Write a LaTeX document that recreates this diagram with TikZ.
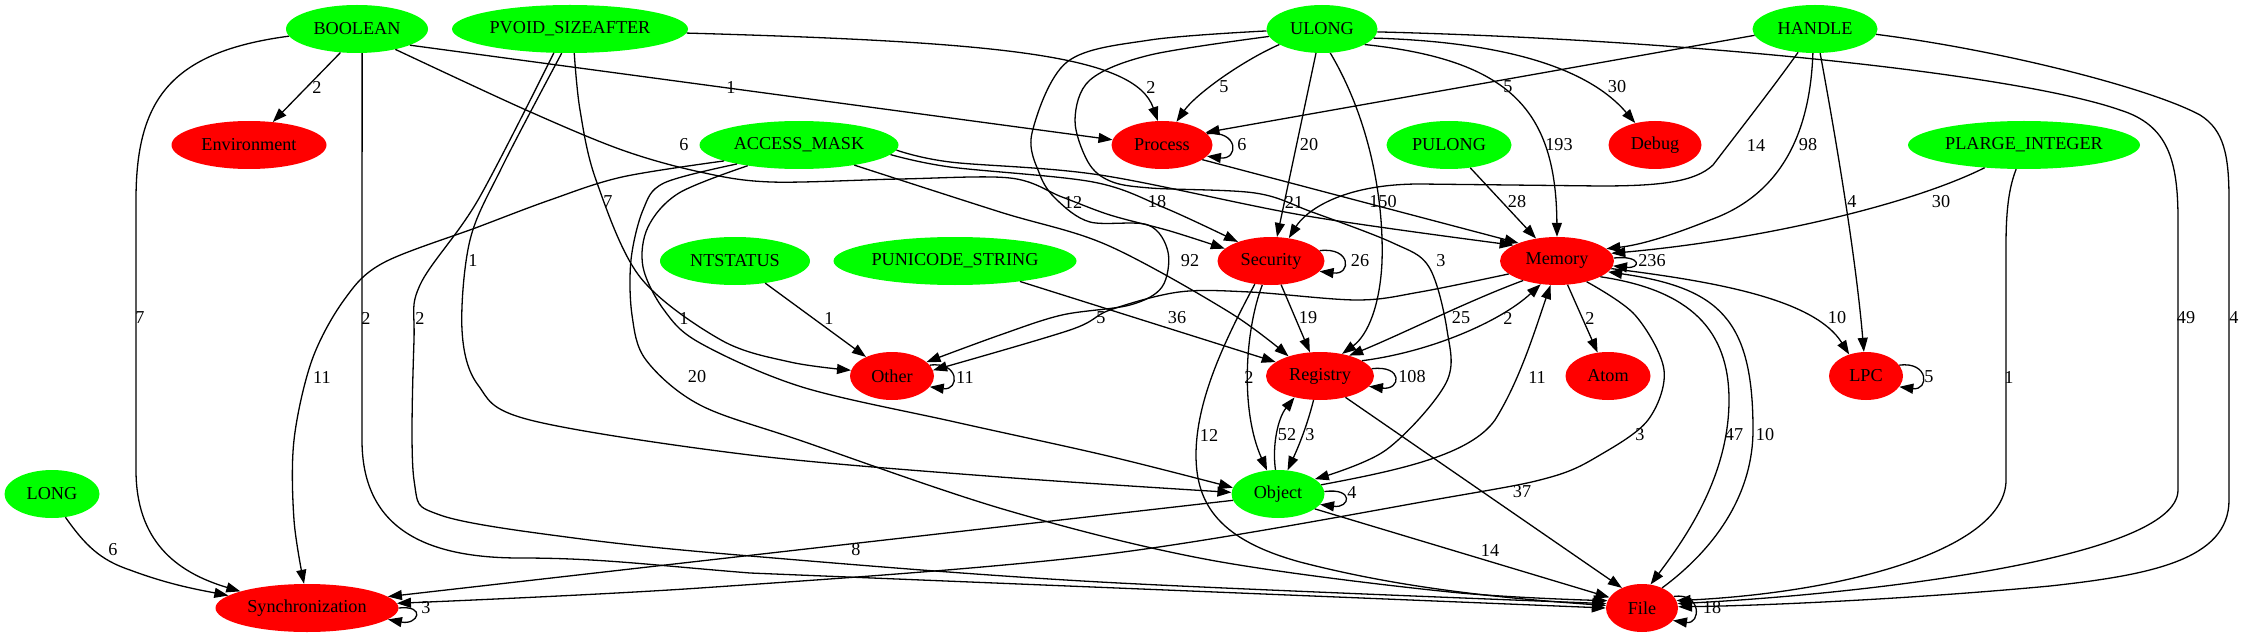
\documentclass[tikz,border=0pt]{standalone}
\usepackage{fontspec}
\setmainfont{Liberation Serif}
\usetikzlibrary{arrows.meta}
\usetikzlibrary{shapes.geometric}
\definecolor{typegreen}{RGB}{0,255,0}
\definecolor{catred}{RGB}{255,0,0}
\tikzset{
    gvnode/.style={
        ellipse,
        inner sep=0pt,
        minimum height=48pt,
        font=\fontsize{18.2}{20}\selectfont},
    argtype/.style={gvnode, fill=typegreen},
    category/.style={gvnode, fill=catred},
    edgecount/.style={
        inner sep=0pt,
        font=\fontsize{18.2}{20}\selectfont},
    link/.style={
        draw,
        line width=1.3pt,
        -{Triangle[length=14pt,width=10pt]}}}

\begin{document}
\begin{tikzpicture}[x=1pt,y=-1pt]
    \useasboundingbox (0,0) rectangle (2243,639);

    \node[argtype, minimum width=142pt] (bool) at (357,29) {BOOLEAN};
    \node[argtype, minimum width=236pt] (pvoid) at (570,29) {PVOID\_SIZEAFTER};
    \node[argtype, minimum width=111pt] (ulong) at (1322,29) {ULONG};
    \node[argtype, minimum width=125pt] (handle) at (1815,29) {HANDLE};
    \node[category, minimum width=155pt] (env) at (249,145) {Environment};
    \node[argtype, minimum width=199pt] (amask) at (799,145) {ACCESS\_MASK};
    \node[category, minimum width=101pt] (proc) at (1162,145) {Process};
    \node[argtype, minimum width=125pt] (pulong) at (1449,145) {PULONG};
    \node[category, minimum width=93pt] (debug) at (1655,145) {Debug};
    \node[argtype, minimum width=232pt] (plarge) at (2024,145) {PLARGE\_INTEGER};
    \node[argtype, minimum width=150pt] (ntstatus) at (735,261) {NTSTATUS};
    \node[argtype, minimum width=243pt] (pustr) at (955,261) {PUNICODE\_STRING};
    \node[category, minimum width=107pt] (sec) at (1271,261) {Security};
    \node[category, minimum width=114pt] (mem) at (1557,261) {Memory};
    \node[category, minimum width=84pt] (other) at (892,376) {Other};
    \node[category, minimum width=108pt] (reg) at (1320,376) {Registry};
    \node[category, minimum width=85pt] (atom) at (1608,376) {Atom};
    \node[category, minimum width=74pt] (lpc) at (1866,376) {LPC};
    \node[argtype, minimum width=95pt] (long) at (52,494) {LONG};
    \node[argtype, minimum width=93pt] (obj) at (1278,494) {Object};
    \node[category, minimum width=183pt] (sync) at (307,608) {Synchronization};
    \node[category, minimum width=72pt] (file) at (1642,608) {File};

    % BOOLEAN
    \draw[link] (bool.-125) -- (env.44);
    \draw[link] (bool.-17) -- (proc.174);
    \draw[link] plot[smooth,tension=.55] coordinates {(bool.-28) (526,110) (622,150) (700,172) (771,182) (900,179) (1010,178) (1062,197) (1110,215) (1170,231) (sec.165)};
    \draw[link] (bool.186) .. controls (170,52) and (136,100) .. (136,200) -- (136,470) .. controls (136,540) and (175,572) .. (sync.166);
    \draw[link] (bool.-78) -- (362,440) .. controls (362,525) and (420,558) .. (520,558) .. controls (600,558) and (650,565) .. (750,573) -- (file.180);

    % PVOID_SIZEAFTER
    \draw[link] (pvoid.-2) .. controls (1000,42) and (1135,55) .. (proc.100);
    \draw[link] plot[smooth,tension=.55] coordinates {(pvoid.-80) (580,110) (596,180) (640,277) (721,340) (790,362) (other.172)};
    \draw[link] plot[smooth,tension=.55] coordinates {(pvoid.-109) (502,167) (470,240) (462,330) (478,385) (530,420) (750,455) (1000,477) (obj.178)};
    \draw[link] plot[smooth,tension=.55] coordinates {(pvoid.-124) (478,200) (420,285) (414,340) (414,480) (440,515) (574,538) (750,556) (1100,582) (file.173)};

    % ULONG
    \draw[link] (ulong.200) .. controls (1240,62) and (1195,95) .. (proc.58);
    \draw[link] (ulong.-104) -- (sec.76);
    \draw[link] (ulong.-20) .. controls (1510,60) and (1556,110) .. (mem.90);
    \draw[link] (ulong.-10) .. controls (1510,42) and (1590,70) .. (debug.132);
    \draw[link] (ulong.-71) .. controls (1370,120) and (1384,200) .. (1382,262) .. controls (1380,305) and (1368,335) .. (reg.45);
    \draw[link] plot[smooth,tension=.55] coordinates {(ulong.182) (1150,40) (1067,62) (1032,133) (1040,175) (1057,200) (1090,222) (1148,225) (1168,252) (1162,287) (1130,305) (1062,315) (1000,335) (other.22)};
    \draw[link] plot[smooth,tension=.55] coordinates {(ulong.188) (1150,55) (1090,80) (1075,120) (1088,162) (1110,181) (1150,188) (1255,193) (1312,212) (1393,243) (1429,267) (1447,330) (1446,383) (1386,450) (obj.22)};
    \draw[link] (ulong.-3) .. controls (1700,40) and (2020,75) .. (2120,110) .. controls (2168,125) and (2178,160) .. (2178,220) -- (2178,490) .. controls (2178,560) and (1850,595) .. (file.7);

    % HANDLE
    \draw[link] (handle.186) -- (proc.16);
    \draw[link] (handle.-126) .. controls (1775,85) and (1732,140) .. (1713,165) .. controls (1695,182) and (1660,186) .. (1600,186) -- (1420,184) .. controls (1340,184) and (1305,212) .. (sec.52);
    \draw[link] (handle.-95) .. controls (1810,135) and (1780,195) .. (1710,220) .. controls (1670,236) and (1640,245) .. (mem.14);
    \draw[link] (handle.-78) .. controls (1838,150) and (1856,260) .. (lpc.95);
    \draw[link] (handle.-5) .. controls (2000,50) and (2150,88) .. (2200,115) .. controls (2224,130) and (2229,155) .. (2229,200) -- (2229,500) .. controls (2229,560) and (2150,575) .. (2050,586) .. controls (1900,600) and (1750,606) .. (file.2);

    % ACCESS_MASK
    \draw[link] plot[smooth,tension=.55] coordinates {(amask.-168) (622,177) (550,200) (478,227) (383,263) (344,300) (312,360) (294,440) (294,520) (sync.97)};
    \draw[link] plot[smooth,tension=.55] coordinates {(amask.-158) (679,193) (648,227) (643,267) (664,310) (700,343) (802,387) (955,422) (1108,456) (obj.172)};
    \draw[link] plot[smooth,tension=.55] coordinates {(amask.-163) (664,183) (643,210) (631,260) (632,315) (646,360) (700,405) (802,441) (1006,510) (1210,560) (1450,592) (file.168)};
    \draw[link] plot[smooth,tension=.55] coordinates {(amask.-6) (950,167) (1093,182) (1165,208) (sec.150)};
    \draw[link] plot[smooth,tension=.55] coordinates {(amask.-3) (950,162) (1100,175) (1307,216) (mem.160)};
    \draw[link] plot[smooth,tension=.55] coordinates {(amask.-20) (1000,212) (1107,245) (1229,312) (reg.148)};

    % other types
    \draw[link] (pulong) -- (mem);
    \draw[link] (plarge.-150) .. controls (1910,205) and (1760,240) .. (mem.8);
    \draw[link] (plarge.-108) .. controls (2010,185) and (2006,205) .. (2006,245) -- (2006,480) .. controls (2006,548) and (1850,592) .. (file.12);
    \draw[link] (ntstatus) -- (other);
    \draw[link] (pustr) -- (reg);
    \draw[link] (long.-60) .. controls (85,545) and (100,560) .. (130,570) .. controls (170,585) and (200,590) .. (sync.171);

    % Object
    \draw[link] (obj.188) -- (sync.8);
    \draw[link] (obj.-22) -- (file.162);
    \draw[link] (obj.96) .. controls (1272,445) and (1278,418) .. (reg.-140);
    \draw[link] (obj.12) .. controls (1400,470) and (1470,455) .. (1495,420) .. controls (1520,380) and (1535,330) .. (mem.-105);

    % categories
    \draw[link] (proc.-20) -- (mem.155);
    \draw[link] (sec) -- (reg);
    \draw[link] (sec.-110) .. controls (1245,330) and (1240,410) .. (obj.115);
    \draw[link] (sec.-125) .. controls (1225,340) and (1196,400) .. (1196,455) .. controls (1196,505) and (1220,540) .. (1300,562) .. controls (1400,588) and (1500,598) .. (file.176);
    \draw[link] plot[smooth,tension=.55] coordinates {(mem.-165) (1420,292) (1357,300) (1250,292) (1179,292) (1110,310) (1070,330) (other.8)};
    \draw[link] (mem.-150) .. controls (1470,300) and (1400,335) .. (reg.35);
    \draw[link] (reg.20) .. controls (1430,352) and (1500,322) .. (mem.-125);
    \draw[link] (mem) -- (atom);
    \draw[link] (mem.-8) .. controls (1720,282) and (1815,300) .. (lpc.128);
    \draw[link] (mem.-20) .. controls (1690,290) and (1729,330) .. (1729,400) .. controls (1729,480) and (1680,545) .. (file.70);
    \draw[link] (file.45) .. controls (1720,545) and (1753,490) .. (1753,430) .. controls (1753,320) and (1720,288) .. (mem.-12);
    \draw[link] plot[smooth,tension=.55] coordinates {(mem.-35) (1635,315) (1664,370) (1648,420) (1600,455) (1551,477) (1450,497) (1100,555) (700,588) (sync.3)};
    \draw[link] (reg.-105) .. controls (1306,430) and (1296,452) .. (obj.68);
    \draw[link] (reg.-40) -- (file.135);

    % self loops
    \draw[link] (proc.14) .. controls +(32,-4) and +(32,4) .. (proc.-14);
    \draw[link] (sec.12) .. controls +(32,-4) and +(32,4) .. (sec.-12);
    \draw[link] (mem.3) .. controls +(28,-3) and +(28,3) .. (mem.-5);
    \draw[link] (other.16) .. controls +(30,-4) and +(30,4) .. (other.-16);
    \draw[link] (reg.8) .. controls +(32,-4) and +(32,4) .. (reg.-12);
    \draw[link] (lpc.18) .. controls +(30,-4) and +(30,4) .. (lpc.-18);
    \draw[link] (obj.3) .. controls +(30,-4) and +(30,4) .. (obj.-14);
    \draw[link] (file.20) .. controls +(28,-4) and +(28,4) .. (file.-22);
    \draw[link] (sync.0) .. controls +(28,-3) and +(30,6) .. (sync.-8);

    % edge counts
    \node[edgecount] (w-bool-env) at (317,87) {2};
    \node[edgecount] (w-bool-proc) at (731,87) {1};
    \node[edgecount] (w-pvoid-proc) at (1151,87) {2};
    \node[edgecount] (w-ulong-proc) at (1224,87) {5};
    \node[edgecount] (w-handle-proc) at (1508,87) {5};
    \node[edgecount] (w-ulong-debug) at (1617,87) {30};
    \node[edgecount] (w-bool-sec) at (684,145) {6};
    \node[edgecount] (w-ulong-sec) at (1309,145) {20};
    \node[edgecount] (w-ulong-mem) at (1559,145) {193};
    \node[edgecount] (w-handle-sec) at (1756,145) {14};
    \node[edgecount] (w-handle-mem) at (1808,145) {98};
    \node[edgecount] (w-proc-proc) at (1242,145) {6};
    \node[edgecount] (w-pvoid-other) at (608,202) {7};
    \node[edgecount] (w-ulong-other) at (1073,202) {12};
    \node[edgecount] (w-amask-sec) at (1157,202) {18};
    \node[edgecount] (w-amask-mem) at (1294,202) {21};
    \node[edgecount] (w-ulong-reg) at (1383,202) {150};
    \node[edgecount] (w-pulong-mem) at (1517,202) {28};
    \node[edgecount] (w-handle-lpc) at (1852,202) {4};
    \node[edgecount] (w-plarge-mem) at (1941,202) {30};
    \node[edgecount] (w-pvoid-obj) at (473,260) {1};
    \node[edgecount] (w-amask-reg) at (1190,261) {92};
    \node[edgecount] (w-ulong-obj) at (1441,261) {3};
    \node[edgecount] (w-sec-sec) at (1360,261) {26};
    \node[edgecount] (w-mem-mem) at (1652,261) {236};
    \node[edgecount] (w-bool-sync) at (140,318) {7};
    \node[edgecount] (w-bool-file) at (366,318) {2};
    \node[edgecount] (w-pvoid-file) at (420,318) {2};
    \node[edgecount] (w-amask-obj) at (684,318) {1};
    \node[edgecount] (w-nts-other) at (829,318) {1};
    \node[edgecount] (w-mem-other) at (1101,318) {5};
    \node[edgecount] (w-pustr-reg) at (1177,318) {36};
    \node[edgecount] (w-sec-reg) at (1308,318) {19};
    \node[edgecount] (w-mem-reg) at (1461,318) {25};
    \node[edgecount] (w-reg-mem) at (1508,318) {2};
    \node[edgecount] (w-mem-atom) at (1590,318) {2};
    \node[edgecount] (w-mem-lpc) at (1837,318) {10};
    \node[edgecount] (w-ulong-file) at (2186,318) {49};
    \node[edgecount] (w-handle-file) at (2234,318) {4};
    \node[edgecount] (w-amask-sync) at (322,377) {11};
    \node[edgecount] (w-amask-file) at (697,377) {20};
    \node[edgecount] (w-other-other) at (965,377) {11};
    \node[edgecount] (w-sec-obj) at (1249,377) {2};
    \node[edgecount] (w-reg-reg) at (1412,377) {108};
    \node[edgecount] (w-obj-mem) at (1537,377) {11};
    \node[edgecount] (w-lpc-lpc) at (1929,377) {5};
    \node[edgecount] (w-plarge-file) at (2009,377) {1};
    \node[edgecount] (w-sec-file) at (1209,435) {12};
    \node[edgecount] (w-obj-reg) at (1287,435) {52};
    \node[edgecount] (w-reg-obj) at (1310,435) {3};
    \node[edgecount] (w-mem-sync) at (1640,435) {3};
    \node[edgecount] (w-mem-file) at (1734,435) {47};
    \node[edgecount] (w-file-mem) at (1765,435) {10};
    \node[edgecount] (w-reg-file) at (1522,492) {37};
    \node[edgecount] (w-obj-obj) at (1352,493) {4};
    \node[edgecount] (w-long-sync) at (113,550) {6};
    \node[edgecount] (w-obj-sync) at (856,550) {8};
    \node[edgecount] (w-obj-file) at (1490,550) {14};
    \node[edgecount] (w-sync-sync) at (426,608) {3};
    \node[edgecount] (w-file-file) at (1712,608) {18};
\end{tikzpicture}
\end{document}
